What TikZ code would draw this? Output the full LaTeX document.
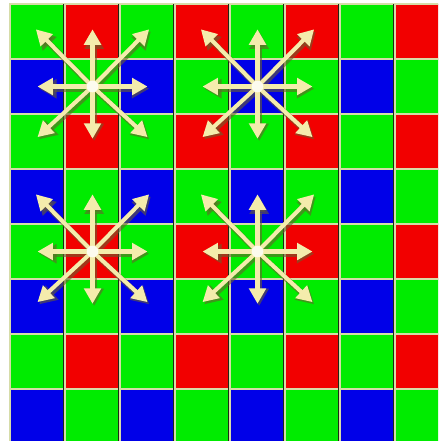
\documentclass[tikz,border=0pt]{standalone}
\usepackage{tikz}
\usetikzlibrary{arrows.meta, calc}
\definecolor{cGreen}{RGB}{0,236,0}
\definecolor{cRed}{RGB}{242,0,0}
\definecolor{cBlue}{RGB}{0,0,232}
\definecolor{cEdge}{RGB}{214,220,168}
\definecolor{cSeam}{RGB}{30,40,20}
\definecolor{cRay}{RGB}{244,236,172}
\definecolor{cRayShade}{RGB}{105,95,45}
\tikzset{
	% sensor cells
	pix/.style      ={draw=cEdge, line width=0.7pt},
	seam/.style     ={cSeam, line width=0.5pt},
	% interpolation rays
	ray/.style      ={-{Triangle[length=8pt, width=8.5pt]}, line width=2.1pt, cRay, line cap=round},
	rayshade/.style ={-{Triangle[length=9pt, width=9.5pt]}, line width=2.9pt, cRayShade, opacity=0.6},
	hub/.style      ={circle, fill=white, opacity=0.8, inner sep=0pt, minimum size=6pt},
}

\begin{document}
\begin{tikzpicture}
	% frame
	\useasboundingbox (-0.182,0.073) rectangle (7.782,-7.945);
	\fill[white] (-0.182,0.073) rectangle (7.782,-7.945);
	\clip (-0.182,0.073) rectangle (7.782,-7.945);
	% bayer mosaic
	\foreach \r in {0,2,4,6}{
		\foreach \c in {0,2,4,6}{
			\filldraw[pix, fill=cGreen] (\c,-\r) rectangle ++(1,-1);
			\filldraw[pix, fill=cRed] (\c+1,-\r) rectangle ++(1,-1);
			\filldraw[pix, fill=cBlue] (\c,-\r-1) rectangle ++(1,-1);
			\filldraw[pix, fill=cGreen] (\c+1,-\r-1) rectangle ++(1,-1);
		}
	}
	% dark seams
	\foreach \c in {1,...,8}
		\draw[seam] (\c-0.03,0) -- (\c-0.03,-8);
	% centres of the four stars
	\coordinate (s1) at (1.5,-1.5);
	\coordinate (s2) at (4.5,-1.5);
	\coordinate (s3) at (1.5,-4.5);
	\coordinate (s4) at (4.5,-4.5);
	% rays
	\foreach \s in {s1,s2,s3,s4}{
		\foreach \dx/\dy in {0/1.04, 1.03/1.04, 1/0, 1/-0.92, 0/-0.95, -1/-0.92, -1/0, -1.03/1.04}
			\draw[rayshade] ($(\s)+(0.03,-0.04)$) -- ($(\s)+(\dx+0.03,\dy-0.04)$);
		\foreach \dx/\dy in {0/1.04, 1.03/1.04, 1/0, 1/-0.92, 0/-0.95, -1/-0.92, -1/0, -1.03/1.04}
			\draw[ray] (\s) -- ($(\s)+(\dx,\dy)$);
		\node[hub] (h\s) at (\s) {};
	}
\end{tikzpicture}
\end{document}
